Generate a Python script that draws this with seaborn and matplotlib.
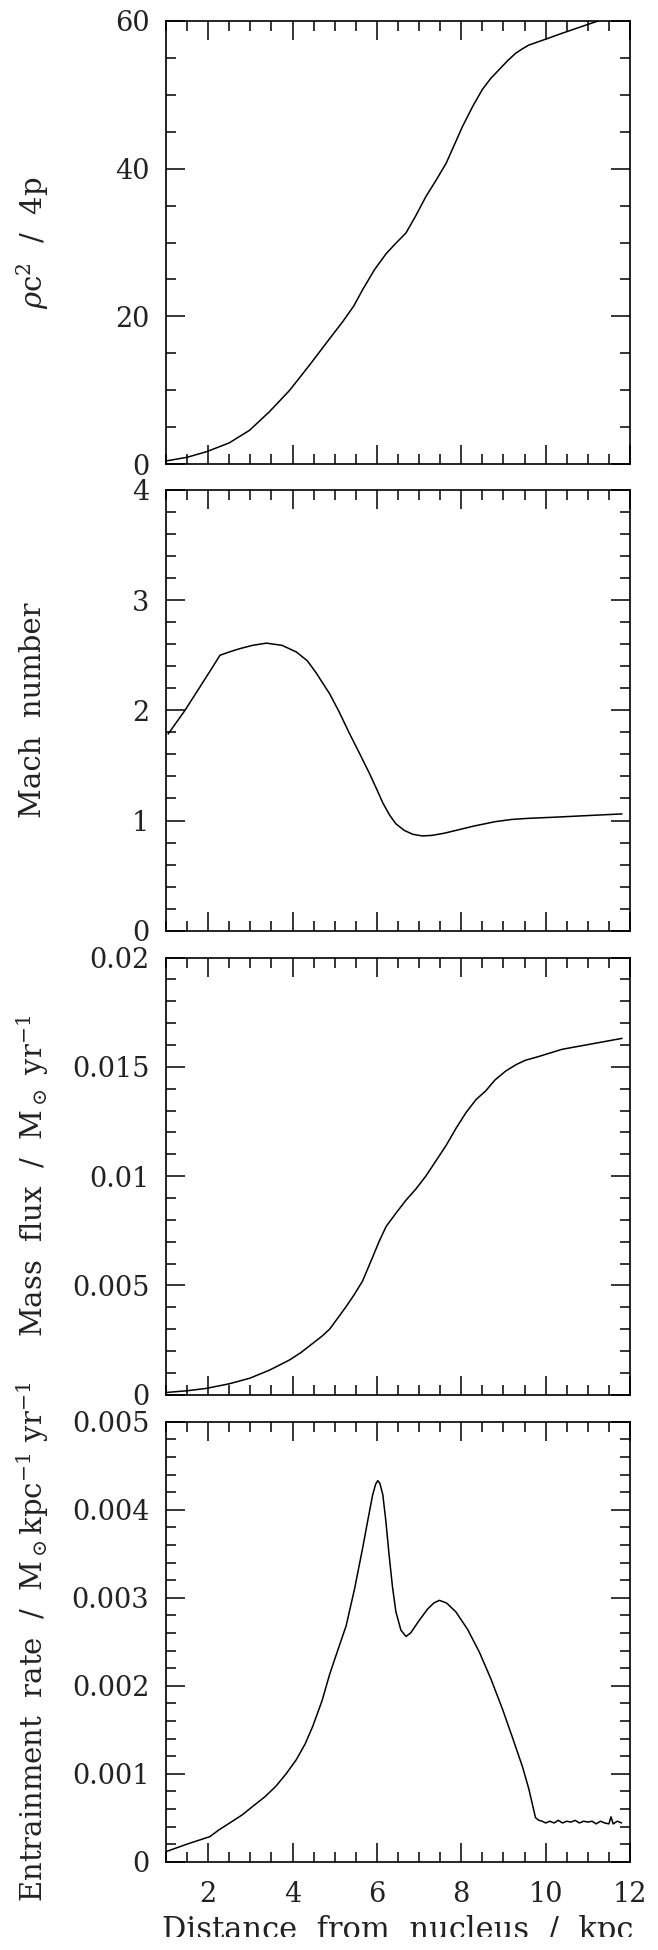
import numpy as np
import pandas as pd
import matplotlib
matplotlib.use("Agg")
import matplotlib.pyplot as plt
import seaborn as sns
from matplotlib.ticker import MultipleLocator
from matplotlib.transforms import Bbox, TransformedBbox

# ---------------- data ----------------
x_pressure = [1.0, 1.5, 1.96, 2.5, 2.98, 3.45, 3.93, 4.4, 4.88, 5.19, 5.45, 5.66, 5.94, 6.22,
              6.45, 6.69, 6.92, 7.16, 7.4, 7.64, 8.03, 8.27, 8.5, 8.7, 8.9, 9.1, 9.29, 9.45,
              9.6, 10.0, 10.39, 10.9, 11.42, 11.9]
y_pressure = [0.45, 0.95, 1.7, 2.9, 4.6, 7.1, 10.0, 13.4, 17.0, 19.3, 21.4, 23.6, 26.3, 28.5,
              29.9, 31.3, 33.6, 36.2, 38.4, 40.7, 45.7, 48.4, 50.7, 52.2, 53.4, 54.6, 55.6, 56.2,
              56.7, 57.5, 58.3, 59.3, 60.3, 61.2]

x_mach = [1.05, 1.45, 1.8, 2.05, 2.28, 2.5, 2.75, 3.05, 3.38, 3.75, 4.09, 4.35, 4.56, 4.88,
          5.1, 5.35, 5.6, 5.82, 6.0, 6.14, 6.3, 6.45, 6.65, 6.85, 7.08, 7.3, 7.6, 7.87, 8.3,
          8.81, 9.2, 9.6, 10.2, 11.0, 11.81]
y_mach = [1.785, 2.0, 2.21, 2.36, 2.5, 2.53, 2.56, 2.59, 2.61, 2.59, 2.53, 2.45, 2.34, 2.15,
          1.99, 1.79, 1.60, 1.43, 1.28, 1.16, 1.05, 0.97, 0.91, 0.875, 0.86, 0.865, 0.885, 0.91,
          0.95, 0.99, 1.01, 1.02, 1.03, 1.045, 1.06]

x_flux = [1.0, 1.5, 1.96, 2.5, 2.98, 3.45, 3.93, 4.2, 4.48, 4.7, 4.88, 5.07, 5.27, 5.47, 5.66,
          5.9, 6.05, 6.22, 6.45, 6.69, 6.92, 7.16, 7.4, 7.64, 7.88, 8.11, 8.35, 8.58, 8.8, 9.05,
          9.3, 9.52, 9.8, 10.39, 11.1, 11.81]
y_flux = [0.0001, 0.00018, 0.00029, 0.0005, 0.00075, 0.00112, 0.00159, 0.00193, 0.00235,
          0.00268, 0.003, 0.0035, 0.00403, 0.0046, 0.0052, 0.0063, 0.0070, 0.0077, 0.0083,
          0.0089, 0.0094, 0.0100, 0.0107, 0.0114, 0.0122, 0.0129, 0.0135, 0.0139, 0.0144,
          0.0148, 0.0151, 0.0153, 0.01545, 0.0158, 0.01605, 0.0163]

x_entrain = [1.0, 1.5, 2.04, 2.25, 2.51, 2.8, 3.06, 3.35, 3.61, 3.85, 4.09, 4.3, 4.48, 4.7,
             4.88, 5.07, 5.27, 5.47, 5.66, 5.8, 5.9, 5.97, 6.02, 6.07, 6.14, 6.21, 6.29, 6.37,
             6.45, 6.57, 6.69, 6.8, 7.0, 7.2, 7.35, 7.48, 7.65, 7.87, 8.15, 8.43, 8.7, 8.98,
             9.2, 9.45, 9.6, 9.76, 9.84, 9.92, 10.0, 10.1, 10.2, 10.3, 10.4, 10.5, 10.6, 10.7,
             10.8, 10.9, 11.0, 11.1, 11.2, 11.3, 11.4, 11.5, 11.55, 11.6, 11.7, 11.8]
y_entrain = [0.000114, 0.0002, 0.000285, 0.00036, 0.00044, 0.00053, 0.00063, 0.00074, 0.00086,
             0.001, 0.00116, 0.00134, 0.00154, 0.00183, 0.00213, 0.0024, 0.00268, 0.0031,
             0.00356, 0.00392, 0.00417, 0.00429, 0.00433, 0.0043, 0.00417, 0.00388, 0.00348,
             0.00312, 0.00284, 0.00263, 0.00256, 0.0026, 0.00274, 0.00287, 0.00294, 0.00297,
             0.00294, 0.00284, 0.00264, 0.00238, 0.00208, 0.00173, 0.00143, 0.00108, 0.00083,
             0.0005, 0.00047, 0.00046, 0.00044, 0.00046, 0.00044, 0.00047, 0.00044, 0.00046,
             0.00045, 0.00047, 0.00044, 0.00046, 0.00045, 0.00046, 0.00043, 0.00046, 0.00044,
             0.00043, 0.00051, 0.00043, 0.00046, 0.00044]

x_ticklabels = ["2", "4", "6", "8", "10", "12"]
y_labels = [r"$\rho$c$^2$  /  4p", "Mach  number",
            r"Mass  flux  /  M$_\odot$ yr$^{-1}$",
            r"Entrainment  rate  /  M$_\odot$kpc$^{-1}$ yr$^{-1}$"]
x_label = "Distance  from  nucleus  /  kpc"

panels = [
    (x_pressure, y_pressure, (0, 60), 20, 5, ["0", "20", "40", "60"]),
    (x_mach, y_mach, (0, 4), 1, 0.2, ["0", "1", "2", "3", "4"]),
    (x_flux, y_flux, (0, 0.02), 0.005, 0.001, ["0", "0.005", "0.01", "0.015", "0.02"]),
    (x_entrain, y_entrain, (0, 0.005), 0.001, 0.0002,
     ["0", "0.001", "0.002", "0.003", "0.004", "0.005"]),
]

# ---------------- style ----------------
sns.set_theme(style="ticks")
plt.rcParams["font.family"] = ["DejaVu Serif"]
plt.rcParams["mathtext.fontset"] = "dejavuserif"

fig = plt.figure(figsize=(6.58, 19.5), dpi=100)
W = 658.0
H = 1950.0
left_px, right_px = 166.0, 630.0
boxes = [(20.7, 464.3), (490.0, 930.7), (957.5, 1394.7), (1421.7, 1861.7)]

for i, ((xs, ys, ylim, ymaj, ymin, ytl), (top, bot)) in enumerate(zip(panels, boxes)):
    ax = fig.add_axes([left_px / W, 1 - bot / H, (right_px - left_px) / W, (bot - top) / H])
    df = pd.DataFrame({"x": xs, "y": ys})
    sns.lineplot(data=df, x="x", y="y", ax=ax, color="black", linewidth=1.1,
                 estimator=None, sort=False)
    ax.set_xlim(1, 12)
    ax.set_ylim(*ylim)
    ax.xaxis.set_major_locator(MultipleLocator(2))
    ax.xaxis.set_minor_locator(MultipleLocator(0.5))
    ax.yaxis.set_major_locator(MultipleLocator(ymaj))
    ax.yaxis.set_minor_locator(MultipleLocator(ymin))
    ax.set_yticks(np.linspace(ylim[0], ylim[1], len(ytl)))
    ax.set_yticklabels(ytl)
    ax.tick_params(which="both", direction="in", top=True, right=True, color="black",
                   width=1.1, labelsize=19.5, labelcolor="#222222")
    ax.tick_params(which="major", length=13.5, pad=12)
    ax.tick_params(which="minor", length=7)
    for s in ax.spines.values():
        s.set_linewidth(1.2)
        s.set_color("black")
    ax.set_ylabel(y_labels[i], fontsize=21, color="#222222")
    ax.yaxis.set_label_coords(-(left_px - 33) / (right_px - left_px), 0.5)
    ax.yaxis.label.set_verticalalignment("center")
    if i < 3:
        ax.set_xticklabels([])
        ax.set_xlabel("")
    else:
        ax.set_xticks([2, 4, 6, 8, 10, 12])
        ax.set_xticklabels(x_ticklabels)
        ax.tick_params(axis="x", which="major", pad=14)
        ax.set_xlabel(x_label, fontsize=22, color="#222222")
        ax.xaxis.set_label_coords(0.5, -(1915 - bot) / (bot - top))
        ax.xaxis.label.set_verticalalignment("top")
        # the reference image is cropped through the bottom of this label
        clip = TransformedBbox(Bbox([[0, 13 / H], [1, 1]]), fig.transFigure)
        ax.xaxis.label.set_clip_box(clip)
        ax.xaxis.label.set_clip_on(True)

fig.savefig("out.png", dpi=100, facecolor="white")
